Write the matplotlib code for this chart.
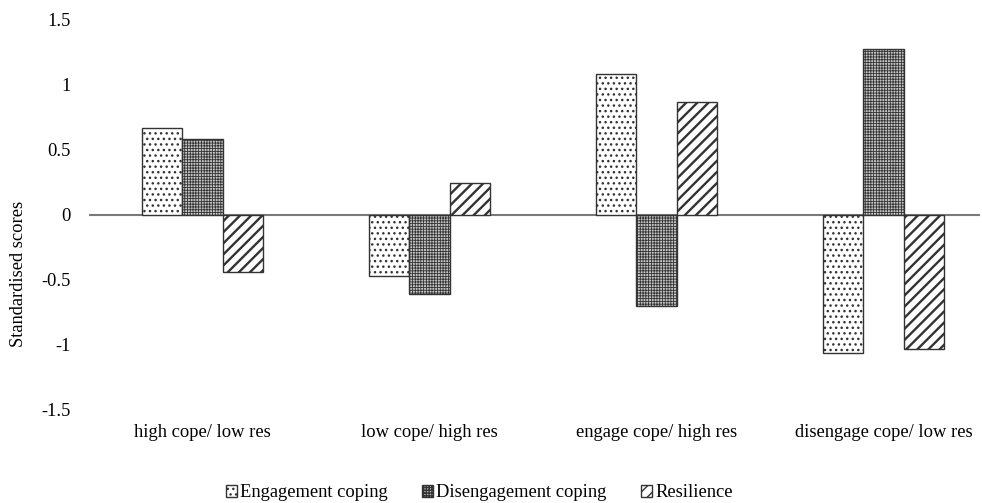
import numpy as np
import matplotlib.pyplot as plt

plt.rcParams['font.family'] = ['Liberation Serif', 'DejaVu Serif']

categories = ['high cope/ low res', 'low cope/ high res',
              'engage cope/ high res', 'disengage cope/ low res']
series = ['Engagement coping', 'Disengagement coping', 'Resilience']
engagement = [0.66, -0.47, 1.08, -1.06]
disengagement = [0.58, -0.61, -0.70, 1.27]
resilience = [-0.44, 0.24, 0.86, -1.03]
yticks = [-1.5, -1, -0.5, 0, 0.5, 1, 1.5]
ytick_labels = ['-1.5', '-1', '-0.5', '0', '0.5', '1', '1.5']

values = [engagement, disengagement, resilience]
hatches = ['...', '++++++', '///']
faces = ['white', '#c4c4c4', 'white']
hatch_lw = [1.0, 0.6, 1.7]
fs = 13.3

fig = plt.figure(figsize=(9.82, 5.03), dpi=100)
ax = fig.add_axes([0.0906, 0.1849, 0.9073, 0.7773])

x = np.arange(len(categories))
w = 0.178
for i, (vals, h, fc) in enumerate(zip(values, hatches, faces)):
    with plt.rc_context({'hatch.linewidth': hatch_lw[i]}):
        ax.bar(x + (i - 1) * w, vals, w, facecolor=fc, edgecolor='#333333',
               hatch=h, linewidth=1.0, label=series[i])

ax.axhline(0, color='#7a7a7a', linewidth=1.5, zorder=0)
# plot area is cut a little short on the right, as in the original
ax.set_xlim(-0.5, -0.5 + 891 / 227)
ax.set_ylim(-1.5, 1.5)
ax.set_yticks(yticks)
ax.set_yticklabels(ytick_labels, fontsize=fs)
ax.set_xticks(x)
ax.set_xticklabels(categories, fontsize=fs)
ax.tick_params(axis='both', length=0)
ax.tick_params(axis='x', pad=10)
ax.tick_params(axis='y', pad=13)
for s in ax.spines.values():
    s.set_visible(False)
ax.set_ylabel('Standardised scores', fontsize=fs)
ax.yaxis.set_label_coords(-0.07, 0.347)

fig.legend(loc='center', bbox_to_anchor=(0.488, 0.02), ncol=3,
           frameon=False, fontsize=fs, handlelength=0.62, handleheight=0.62,
           handletextpad=0.15, columnspacing=1.85)

fig.savefig('out.png', dpi=100)
